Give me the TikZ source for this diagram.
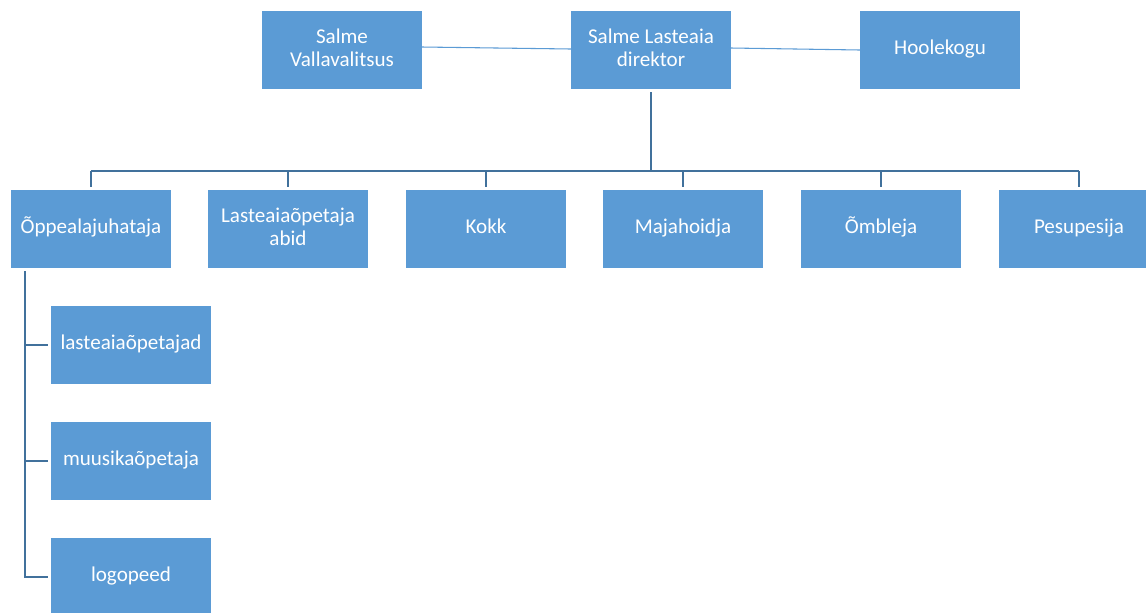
\documentclass[tikz,border=0pt]{standalone}
\usepackage{fontspec}
\setmainfont{Carlito}
\definecolor{boxfill}{HTML}{5B9BD5}
\definecolor{treeline}{HTML}{41719C}
\newcommand\orgtext[1]{\raisebox{2.25pt}{\begin{tabular}{@{}c@{}}#1\end{tabular}}}
\begin{document}
\begin{tikzpicture}[x=0.75pt,y=-0.75pt,
  orgbox/.style={rectangle, fill=boxfill, draw=none, minimum width=120pt, minimum height=58.5pt,
    inner sep=2pt, outer sep=2.25pt, text=white,
    font=\fontsize{15.8}{17.5}\selectfont},
  thinlink/.style={draw=boxfill, line width=0.8pt},
  treelink/.style={draw=treeline, line width=1.6pt}]
\useasboundingbox (0,0) rectangle (1146,612);
\clip (0,0) rectangle (1146,612);
\fill[white] (0,0) rectangle (1146,612);
% top row
\node[orgbox] (vv) at (342,50) {\orgtext{Salme\\Vallavalitsus}};
\node[orgbox] (dir) at (651,50) {\orgtext{Salme Lasteaia\\direktor}};
\node[orgbox] (hk) at (940,50) {\orgtext{Hoolekogu}};
% second row
\node[orgbox] (c1) at (91,229) {\orgtext{Õppealajuhataja}};
\node[orgbox] (c2) at (288,229) {\orgtext{Lasteaiaõpetaja\\abid}};
\node[orgbox] (c3) at (486,229) {\orgtext{Kokk}};
\node[orgbox] (c4) at (683,229) {\orgtext{Majahoidja}};
\node[orgbox] (c5) at (881,229) {\orgtext{Õmbleja}};
\node[orgbox] (c6) at (1079,229) {\orgtext{Pesupesija}};
% sub row
\node[orgbox] (s1) at (131,345) {\orgtext{lasteaiaõpetajad}};
\node[orgbox] (s2) at (131,461) {\orgtext{muusikaõpetaja}};
\node[orgbox] (s3) at (131,577) {\orgtext{logopeed}};
% coordinates
\coordinate (bar) at (0,171);
\coordinate (spine) at (25,0);
% thin links
\draw[thinlink] ([xshift=-2.25pt,yshift=2.25pt]vv.east) -- ([xshift=2.25pt,yshift=0.75pt]dir.west);
\draw[thinlink] ([xshift=-2.25pt,yshift=1.5pt]dir.east) -- ([xshift=2.25pt]hk.west);
% tree
\draw[treelink] (dir.south) -- (dir.south |- bar);
\draw[treelink] (c1.north |- bar) -- (c6.north |- bar);
\foreach \c in {c1,c2,c3,c4,c5,c6} {
  \draw[treelink] (\c.north |- bar) -- (\c.north);
}
\draw[treelink] (spine |- c1.south) -- (spine |- s3) -- (s3.west);
\draw[treelink] (spine |- s1) -- (s1.west);
\draw[treelink] (spine |- s2) -- (s2.west);
\end{tikzpicture}
\end{document}
